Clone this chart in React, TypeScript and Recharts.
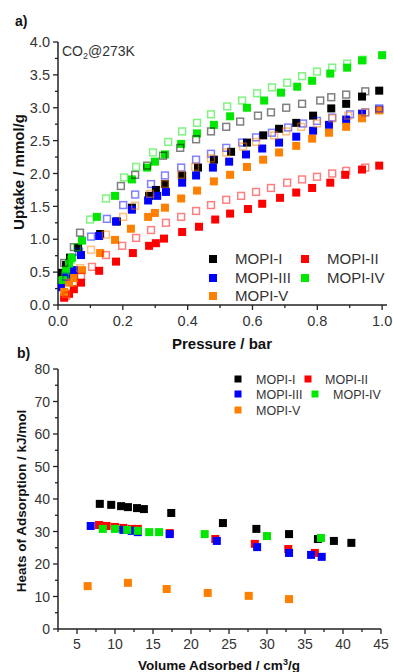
import React from 'react';
import { ScatterChart, Scatter, XAxis, YAxis } from 'recharts';

// ---------- Panel a: CO2 isotherms at 273 K (pressure bar, uptake mmol/g) ----------
const mopiIAds = [[0.012,0.49],[0.025,0.61],[0.037,0.72],[0.062,0.87],[0.130,1.08],[0.182,1.27],[0.228,1.48],[0.281,1.66],[0.302,1.75],[0.330,1.84],[0.383,1.97],[0.432,2.09],[0.481,2.21],[0.534,2.33],[0.583,2.47],[0.633,2.58],[0.682,2.68],[0.735,2.77],[0.787,2.88],[0.843,2.99],[0.889,3.06],[0.938,3.17],[0.991,3.26]];
const mopiIDes = [[0.019,0.64],[0.049,0.88],[0.068,1.10],[0.194,1.81],[0.238,1.98],[0.275,2.12],[0.324,2.27],[0.377,2.39],[0.426,2.52],[0.472,2.64],[0.519,2.71],[0.562,2.79],[0.617,2.88],[0.657,2.93],[0.704,3.00],[0.753,3.06],[0.809,3.11],[0.843,3.16],[0.889,3.20],[0.948,3.25]];
const mopiIIAds = [[0.019,0.11],[0.034,0.17],[0.049,0.24],[0.071,0.34],[0.127,0.52],[0.179,0.66],[0.231,0.79],[0.281,0.90],[0.302,0.94],[0.327,1.01],[0.383,1.11],[0.435,1.19],[0.485,1.30],[0.531,1.39],[0.586,1.46],[0.630,1.54],[0.685,1.63],[0.735,1.71],[0.784,1.78],[0.840,1.86],[0.886,1.98],[0.938,2.06],[0.991,2.12]];
const mopiIIDes = [[0.025,0.14],[0.071,0.43],[0.105,0.58],[0.148,0.76],[0.198,0.90],[0.241,1.02],[0.287,1.14],[0.333,1.25],[0.380,1.34],[0.426,1.43],[0.472,1.52],[0.519,1.60],[0.565,1.66],[0.611,1.72],[0.657,1.78],[0.707,1.86],[0.753,1.91],[0.799,1.95],[0.846,2.00],[0.889,2.04],[0.948,2.09]];
const mopiIIIAds = [[0.009,0.27],[0.028,0.41],[0.049,0.53],[0.071,0.76],[0.127,1.05],[0.179,1.27],[0.228,1.45],[0.278,1.59],[0.306,1.66],[0.333,1.72],[0.383,1.86],[0.426,1.97],[0.478,2.09],[0.528,2.18],[0.580,2.29],[0.630,2.38],[0.682,2.47],[0.735,2.56],[0.787,2.65],[0.836,2.74],[0.889,2.82],[0.938,2.91],[0.991,2.97]];
const mopiIIIDes = [[0.025,0.43],[0.065,0.81],[0.102,1.04],[0.151,1.31],[0.201,1.52],[0.238,1.68],[0.287,1.84],[0.330,1.97],[0.380,2.09],[0.426,2.21],[0.472,2.30],[0.519,2.39],[0.568,2.47],[0.611,2.55],[0.660,2.62],[0.710,2.70],[0.756,2.76],[0.799,2.80],[0.846,2.85],[0.901,2.90],[0.948,2.93],[0.991,2.99]];
const mopiIVAds = [[0.015,0.38],[0.025,0.53],[0.034,0.63],[0.043,0.72],[0.074,0.98],[0.120,1.34],[0.176,1.66],[0.228,1.91],[0.275,2.09],[0.299,2.18],[0.330,2.29],[0.380,2.45],[0.429,2.61],[0.481,2.74],[0.531,2.87],[0.583,3.00],[0.636,3.11],[0.688,3.23],[0.738,3.32],[0.784,3.41],[0.840,3.52],[0.892,3.61],[0.938,3.72],[1.000,3.80]];
const mopiIVDes = [[0.022,0.46],[0.040,0.69],[0.059,0.88],[0.099,1.30],[0.148,1.62],[0.204,1.94],[0.241,2.10],[0.293,2.32],[0.340,2.48],[0.383,2.64],[0.429,2.77],[0.472,2.90],[0.522,3.02],[0.568,3.11],[0.614,3.22],[0.660,3.31],[0.707,3.38],[0.753,3.48],[0.799,3.55],[0.846,3.61],[0.892,3.67],[0.941,3.73]];
const mopiVAds = [[0.019,0.20],[0.034,0.34],[0.049,0.41],[0.074,0.53],[0.130,0.79],[0.176,0.99],[0.225,1.16],[0.278,1.34],[0.299,1.40],[0.330,1.48],[0.380,1.62],[0.429,1.74],[0.481,1.88],[0.531,1.98],[0.583,2.10],[0.633,2.21],[0.682,2.32],[0.735,2.42],[0.784,2.53],[0.836,2.62],[0.889,2.71],[0.938,2.84],[0.991,2.96]];
const mopiVDes = [[0.025,0.17],[0.046,0.34],[0.068,0.56],[0.102,0.84],[0.148,1.07],[0.201,1.34],[0.238,1.51],[0.284,1.69],[0.330,1.84],[0.380,1.98],[0.423,2.10],[0.472,2.23],[0.519,2.32],[0.571,2.41],[0.611,2.48],[0.667,2.58],[0.704,2.64],[0.750,2.71],[0.799,2.76],[0.846,2.84],[0.895,2.88],[0.948,2.93]];

// ---------- Panel b: heats of adsorption (volume cm3/g, kJ/mol) ----------
const heatI = [[8.0,38.5],[9.5,38.2],[10.8,37.8],[11.7,37.5],[12.9,37.2],[13.8,36.9],[17.4,35.7],[24.2,32.6],[28.6,30.8],[32.9,29.2],[36.7,27.7],[38.8,27.1],[41.1,26.5]];
const heatII = [[7.9,32.0],[8.9,31.7],[10.0,31.4],[11.1,31.1],[12.2,30.8],[13.0,30.8],[17.2,29.5],[23.2,27.7],[28.4,26.2],[32.8,24.6],[36.3,23.4]];
const heatIII = [[6.8,31.7],[11.1,30.5],[12.2,30.2],[13.0,29.8],[17.2,29.2],[23.4,27.1],[28.7,25.2],[32.9,23.4],[35.8,22.8],[37.2,22.2]];
const heatIV = [[8.4,30.8],[10.0,30.8],[11.6,30.5],[13.0,30.2],[14.5,29.8],[15.8,29.8],[21.8,29.2],[30.0,28.6],[37.1,28.0]];
const heatV = [[6.4,13.2],[11.7,14.2],[16.8,12.3],[22.2,11.1],[27.6,10.2],[32.9,9.2]];

const names = ['MOPI-I', 'MOPI-II', 'MOPI-III', 'MOPI-IV', 'MOPI-V'];
const colors = ['#000000', '#ff0000', '#0000ff', '#00e800', '#ff8000'];

// tick values
const aXMajor = [0, 0.2, 0.4, 0.6, 0.8, 1.0];
const aXMinor = [0.1, 0.3, 0.5, 0.7, 0.9];
const aYMajor = [0, 0.5, 1, 1.5, 2, 2.5, 3, 3.5, 4];
const aYMinor = [0.25, 0.75, 1.25, 1.75, 2.25, 2.75, 3.25, 3.75];
const bXMajor = [5, 10, 15, 20, 25, 30, 35, 40, 45];
const bXMinor = [2.5, 7.5, 12.5, 17.5, 22.5, 27.5, 32.5, 37.5, 42.5];
const bYMajor = [0, 10, 20, 30, 40, 50, 60, 70, 80];
const bYMinor = [5, 15, 25, 35, 45, 55, 65, 75];

const FONT = '"Liberation Sans", Arial, Helvetica, sans-serif';
const AXIS = '#222';
const TXT = '#333';

const pts = (arr) => arr.map(([x, y]) => ({ x, y }));

const isIn = (list, v) => list.some((m) => Math.abs(m - v) < 1e-9);

const makeXTick = (majors, fmt, fontSize, dy) => (props) => {
  const { x, y, payload } = props;
  const v = payload.value;
  const major = isIn(majors, v);
  return (
    <g>
      <line x1={x} y1={y} x2={x} y2={y + (major ? 5 : 3)} stroke={AXIS} strokeWidth={1.3} />
      {major && (
        <text x={x} y={y + dy} textAnchor="middle" fontSize={fontSize} fill={TXT} fontFamily={FONT}>
          {fmt(v)}
        </text>
      )}
    </g>
  );
};

const makeYTick = (majors, fmt, fontSize) => (props) => {
  const { x, y, payload } = props;
  const v = payload.value;
  const major = isIn(majors, v);
  return (
    <g>
      <line x1={x - (major ? 5 : 3)} y1={y} x2={x} y2={y} stroke={AXIS} strokeWidth={1.3} />
      {major && (
        <text x={x - 8} y={y} dy="0.36em" textAnchor="end" fontSize={fontSize} fill={TXT} fontFamily={FONT}>
          {fmt(v)}
        </text>
      )}
    </g>
  );
};

const filled = (color, size) => (props) => {
  const { cx, cy } = props;
  if (cx == null || cy == null) return <g />;
  return <rect x={cx - size / 2} y={cy - size / 2} width={size} height={size} fill={color} />;
};

const open = (color) => (props) => {
  const { cx, cy } = props;
  if (cx == null || cy == null) return <g />;
  return (
    <rect x={cx - 3.4} y={cy - 3.4} width={6.8} height={6.8} fill="none" stroke={color} strokeOpacity={0.5} strokeWidth={1.5} />
  );
};

const adsA = [mopiIAds, mopiIIAds, mopiIIIAds, mopiIVAds, mopiVAds];
const desA = [mopiIDes, mopiIIDes, mopiIIIDes, mopiIVDes, mopiVDes];
const heats = [heatI, heatII, heatIII, heatIV, heatV];

function LegendItem({ cx, cy, tx, label, color, size, fontSize }) {
  return (
    <g>
      <rect x={cx - size / 2} y={cy - size / 2} width={size} height={size} fill={color} />
      <text x={tx} y={cy} dy="0.36em" fontSize={fontSize} fill={TXT} fontFamily={FONT}>
        {label}
      </text>
    </g>
  );
}

export default function App() {
  return (
    <div style={{ position: 'absolute', left: 0, top: 0, width: 393, height: 672, background: '#fff', overflow: 'hidden' }}>
      <div style={{ position: 'absolute', left: 0, top: 0 }}>
        <ScatterChart width={393} height={350} margin={{ top: 42, right: 6, bottom: 0, left: 0 }}>
          <XAxis
            type="number"
            dataKey="x"
            domain={[0, 1.015]}
            allowDataOverflow
            ticks={[...aXMajor, ...aXMinor].sort((p, q) => p - q)}
            interval={0}
            tick={makeXTick(aXMajor, (v) => v.toFixed(1), 14.5, 21)}
            tickLine={false}
            tickSize={0}
            tickMargin={0}
            height={45}
            axisLine={{ stroke: AXIS, strokeWidth: 1.5 }}
          />
          <YAxis
            type="number"
            dataKey="y"
            domain={[0, 4]}
            allowDataOverflow
            ticks={[...aYMajor, ...aYMinor].sort((p, q) => p - q)}
            interval={0}
            tick={makeYTick(aYMajor, (v) => v.toFixed(1), 14.5)}
            tickLine={false}
            tickSize={0}
            tickMargin={0}
            width={58}
            axisLine={{ stroke: AXIS, strokeWidth: 1.5 }}
          />
          {names.map((n, i) => (
            <Scatter key={'f' + n} name={n} data={pts(adsA[i])} shape={filled(colors[i], 8)} isAnimationActive={false} />
          ))}
          {names.map((n, i) => (
            <Scatter key={'o' + n} name={n + ' des'} data={pts(desA[i])} shape={open(colors[i])} isAnimationActive={false} />
          ))}
        </ScatterChart>
      </div>
      <div style={{ position: 'absolute', left: 0, top: 350 }}>
        <ScatterChart width={393} height={322} margin={{ top: 19, right: 12, bottom: 0, left: 0 }}>
          <XAxis
            type="number"
            dataKey="x"
            domain={[2.5, 45]}
            allowDataOverflow
            ticks={[...bXMajor, ...bXMinor].sort((p, q) => p - q)}
            interval={0}
            tick={makeXTick(bXMajor, (v) => String(v), 14, 20)}
            tickLine={false}
            tickSize={0}
            tickMargin={0}
            height={43}
            axisLine={{ stroke: AXIS, strokeWidth: 1.5 }}
          />
          <YAxis
            type="number"
            dataKey="y"
            domain={[0, 80]}
            allowDataOverflow
            ticks={[...bYMajor, ...bYMinor].sort((p, q) => p - q)}
            interval={0}
            tick={makeYTick(bYMajor, (v) => String(v), 14)}
            tickLine={false}
            tickSize={0}
            tickMargin={0}
            width={58}
            axisLine={{ stroke: AXIS, strokeWidth: 1.5 }}
          />
          {names.map((n, i) => (
            <Scatter key={'h' + n} name={n} data={pts(heats[i])} shape={filled(colors[i], 8)} isAnimationActive={false} />
          ))}
        </ScatterChart>
      </div>
      <svg width={393} height={672} style={{ position: 'absolute', left: 0, top: 0, pointerEvents: 'none' }}>
        <text x={15} y={26} fontSize={14} fontWeight="bold" fill="#111" fontFamily={FONT}>a)</text>
        <text x={62} y={56} fontSize={14} fill={TXT} fontFamily={FONT}>
          CO<tspan fontSize={9} dy={3}>2</tspan>
          <tspan dy={-3}>@273K</tspan>
        </text>
        <text transform="translate(24,172) rotate(-90)" textAnchor="middle" fontSize={15} fontWeight="bold" fill="#111" fontFamily={FONT}>
          Uptake / mmol/g
        </text>
        <text x={222} y={349} textAnchor="middle" fontSize={15} fontWeight="bold" fill="#111" fontFamily={FONT}>
          Pressure / bar
        </text>
        <LegendItem cx={213} cy={259} tx={235} label={names[0]} color={colors[0]} size={8} fontSize={15} />
        <LegendItem cx={305} cy={259} tx={327} label={names[1]} color={colors[1]} size={8} fontSize={15} />
        <LegendItem cx={213} cy={278} tx={235} label={names[2]} color={colors[2]} size={8} fontSize={15} />
        <LegendItem cx={305} cy={278} tx={327} label={names[3]} color={colors[3]} size={8} fontSize={15} />
        <LegendItem cx={213} cy={296} tx={235} label={names[4]} color={colors[4]} size={8} fontSize={15} />

        <text x={17} y={358} fontSize={14} fontWeight="bold" fill="#111" fontFamily={FONT}>b)</text>
        <text transform="translate(26,501) rotate(-90)" textAnchor="middle" fontSize={13.5} fontWeight="bold" fill="#111" fontFamily={FONT}>
          Heats of Adsorption / kJ/mol
        </text>
        <text x={219} y={670} textAnchor="middle" fontSize={13.5} fontWeight="bold" fill="#111" fontFamily={FONT}>
          Volume Adsorbed / cm<tspan fontSize={9} dy={-5}>3</tspan>
          <tspan dy={5}>/g</tspan>
        </text>
        <LegendItem cx={238} cy={379} tx={256} label={names[0]} color={colors[0]} size={7} fontSize={12.5} />
        <LegendItem cx={308} cy={379} tx={325} label={names[1]} color={colors[1]} size={7} fontSize={12.5} />
        <LegendItem cx={238} cy={394} tx={256} label={names[2]} color={colors[2]} size={7} fontSize={12.5} />
        <LegendItem cx={315} cy={394} tx={333} label={names[3]} color={colors[3]} size={7} fontSize={12.5} />
        <LegendItem cx={238} cy={410} tx={256} label={names[4]} color={colors[4]} size={7} fontSize={12.5} />
      </svg>
    </div>
  );
}
